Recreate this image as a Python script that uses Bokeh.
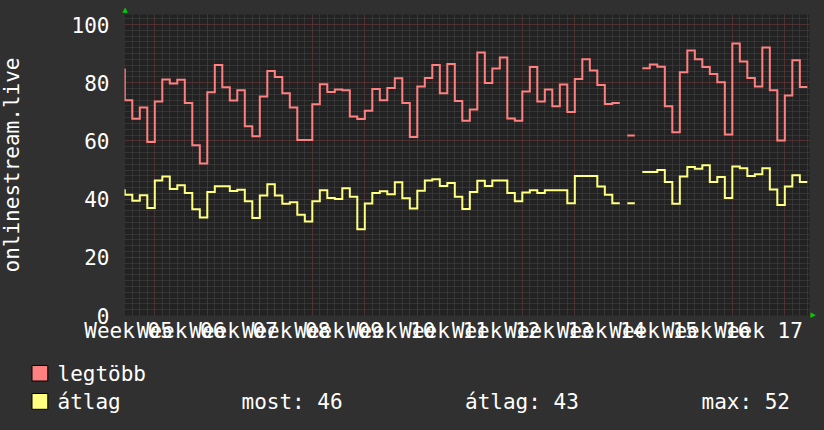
import math
import numpy as np
from bokeh.plotting import figure
from bokeh.models import FixedTicker, Grid, Range1d, LinearAxis
from bokeh.layouts import column, row
from bokeh.embed import file_html
from bokeh.resources import INLINE
from bokeh.core.properties import value

nan = float("nan")

# ---- data (daily values, day 0 = start of week 06) ----
days = list(range(-5, 87))
legtobb = [84.5, 74, 67.6, 71.5, 59.6,
           73.5, 81.1, 79.7, 81, 73, 58.5, 52.2,
           76.7, 86.1, 78.4, 73.9, 77.4, 65, 61.6,
           75.3, 84, 82, 76.4, 71.5, 60.3, 60.3,
           72.6, 79.5, 76.8, 77.7, 77.4, 68.4, 67.5,
           70.4, 77.8, 74, 78.2, 81.5, 73, 61.3,
           78.7, 81.6, 86.1, 76.4, 86.4, 73.7, 66.9,
           70.8, 90.4, 79.9, 84.9, 88.7, 67.7, 66.9,
           77, 85.4, 73.5, 77.7, 71.9, 79.4, 69.9,
           81.3, 88.1, 84.2, 79.2, 72.7, 73, nan,
           61.9, nan, 85, 86.3, 85.5, 71.9, 63,
           83.6, 91.1, 88.1, 85.4, 83, 80.2, 62.2,
           93.5, 87.3, 81.6, 78.7, 92.1, 77.4, 60.1,
           75.6, 87.7, 78.5]
atlag = [43, 41.5, 39.4, 41.3, 36.9,
         46.4, 47.8, 43.5, 44.8, 42.1, 36.5, 33.7,
         42.4, 44.4, 44.4, 42.8, 43.2, 39.3, 33.5,
         41.2, 45.1, 41.2, 38.4, 38.9, 34.6, 32.3,
         39.3, 43, 40.4, 40, 43.7, 40.8, 29.6,
         38.5, 42.1, 42.7, 41.7, 45.8, 40.3, 36.8,
         42.9, 46.4, 46.8, 44.5, 45.5, 40.8, 36.6,
         42.4, 46.3, 44.5, 46.4, 46.4, 42.1, 39.3,
         42.3, 43, 42.1, 43, 43, 43, 38.6,
         47.9, 47.9, 47.9, 44.3, 41.5, 38.6, nan,
         38.6, nan, 49.3, 49.3, 50, 45.9, 38.4,
         47.8, 51, 50.4, 51.6, 45.9, 47.6, 40.4,
         51.2, 50.6, 47.9, 48.5, 50.6, 43.3, 38,
         44.3, 48.2, 45.9]

week_starts = [-7, 0, 7, 14, 21, 28, 35, 42, 49, 56, 63, 70, 77]
week_labels = ["Week 05", "Week 06", "Week 07", "Week 08", "Week 09", "Week 10",
               "Week 11", "Week 12", "Week 13", "Week 14", "Week 15", "Week 16", "Week 17"]
y_ticks = [0, 20, 40, 60, 80, 100]
series_names = ["legtöbb", "átlag"]
series_colors = ["#ff8080", "#ffff80"]
y_title = "onlinestream.live"

FONT = "DejaVu Sans Mono"
BG = "#303030"
CANVAS = "#222222"
TXT = "#ffffff"
ARROW = "#00cc00"

X0, X1 = -4.04, 87.29
Y0, Y1 = 0, 103.44
H_MAIN = 350
TITLE_W = 30


def step_xy(ds, vals):
    xs, ys = [], []
    for d, v in zip(ds, vals):
        if v != v:
            if xs and xs[-1] == xs[-1]:
                xs.append(nan); ys.append(nan)
            continue
        xs += [d, d + 1]
        ys += [v, v]
    return xs, ys


# ---- y title strip ----
tf = figure(width=TITLE_W, height=H_MAIN, x_range=Range1d(0, TITLE_W), y_range=Range1d(H_MAIN, 0),
            output_backend="svg", toolbar_location=None, min_border=0,
            x_axis_location=None, y_axis_location=None,
            background_fill_color=BG, border_fill_color=BG, outline_line_color=None)
tf.grid.visible = False
tf.text(x=[11], y=[164.5], text=[y_title], angle=math.pi / 2, text_font=value(FONT),
        text_font_size="21px", text_color=TXT, text_align="center", text_baseline="alphabetic")

# ---- main chart ----
p = figure(width=824 - TITLE_W, height=H_MAIN,
           x_range=Range1d(X0, X1), y_range=Range1d(Y0, Y1),
           output_backend="svg", toolbar_location=None,
           min_border_left=124 - TITLE_W, min_border_right=15, min_border_top=14, min_border_bottom=35,
           background_fill_color=CANVAS, border_fill_color=BG, outline_line_color=None)
p.xgrid.visible = False
p.ygrid.visible = False
bottom_ax = p.below[0]
left_ax = p.left[0]

major_x = [s for s in week_starts if s >= 0] + [84]
vg = Grid(dimension=0,
          ticker=FixedTicker(ticks=major_x, minor_ticks=list(range(-4, 88))),
          grid_line_color="#6a2e2e", grid_line_dash="1 1", grid_line_width=1,
          minor_grid_line_color="#474747", minor_grid_line_dash="1 1")
hg = Grid(dimension=1,
          ticker=FixedTicker(ticks=y_ticks, minor_ticks=list(range(0, 104, 2))),
          grid_line_color="#6a2e2e", grid_line_dash="1 1", grid_line_width=1,
          minor_grid_line_color="#474747", minor_grid_line_dash="1 1")
p.add_layout(vg)
p.add_layout(hg)

for vals, col in zip([legtobb, atlag], series_colors):
    xs, ys = step_xy(days, vals)
    p.line(xs, ys, line_color=col, line_width=2, line_join="miter")

label_pos = [s + 3.5 for s in week_starts]
bottom_ax.ticker = FixedTicker(ticks=label_pos)
bottom_ax.major_label_overrides = {pos: lab for pos, lab in zip(label_pos, week_labels)}
left_ax.ticker = FixedTicker(ticks=y_ticks)

# small green arrows at the axis ends (one-tick helper axes)
ax_top_tick = round(X0 + 0.1, 2)
ax_right_tick = round(Y0 + 0.1, 2)
top_ax = LinearAxis(ticker=FixedTicker(ticks=[ax_top_tick]),
                    major_label_overrides={ax_top_tick: "▲"})
right_ax = LinearAxis(ticker=FixedTicker(ticks=[ax_right_tick]),
                      major_label_overrides={ax_right_tick: "▶"})
p.add_layout(top_ax, "above")
p.add_layout(right_ax, "right")

for ax in (bottom_ax, left_ax, top_ax, right_ax):
    ax.axis_line_color = None
    ax.major_tick_line_color = None
    ax.minor_tick_line_color = None
    ax.major_tick_out = 0
    ax.major_tick_in = 0
    ax.minor_tick_out = 0
    ax.minor_tick_in = 0
    ax.major_label_text_font = FONT
    ax.major_label_text_font_size = "21px"
    ax.major_label_text_color = TXT
bottom_ax.major_label_standoff = 3
left_ax.major_label_standoff = 15
for ax in (top_ax, right_ax):
    ax.major_label_text_font = "DejaVu Sans"
    ax.major_label_text_font_size = "7px"
    ax.major_label_text_color = ARROW
    ax.major_label_standoff = 1

# ---- legend strip ----
lg = figure(width=824, height=80, x_range=Range1d(0, 824), y_range=Range1d(80, 0),
            output_backend="svg", toolbar_location=None, min_border=0,
            x_axis_location=None, y_axis_location=None,
            background_fill_color=BG, border_fill_color=BG, outline_line_color=None)
lg.grid.visible = False
for fig in (tf, p, lg):
    try:
        fig.frame_align = False
    except Exception:
        pass
lg.quad(left=[31.5, 31.5], right=[47.3, 47.3], top=[15, 43], bottom=[30.5, 58.8],
        fill_color=series_colors, line_color="#000000", line_width=1)
lg.text(x=[57, 57], y=[23.5, 51.5], text=series_names, text_font=value(FONT),
        text_font_size="21px", text_color=TXT, text_baseline="alphabetic")

valid = [v for v in atlag if v == v]
stats = [f"most: {valid[-1]:.0f}", f"átlag: {np.mean(valid):.0f}", f"max: {max(valid):.0f}"]
lg.text(x=[241, 464.5, 701], y=[51.5, 51.5, 51.5], text=stats, text_font=value(FONT),
        text_font_size="21px", text_color=TXT, text_baseline="alphabetic")

page = column(row(tf, p, spacing=0), lg, spacing=0)
tmpl = "{% block postamble %}<style>html, body { background-color: #303030; }</style>{% endblock %}"
open("out.html", "w").write(file_html(page, INLINE, template=tmpl))
